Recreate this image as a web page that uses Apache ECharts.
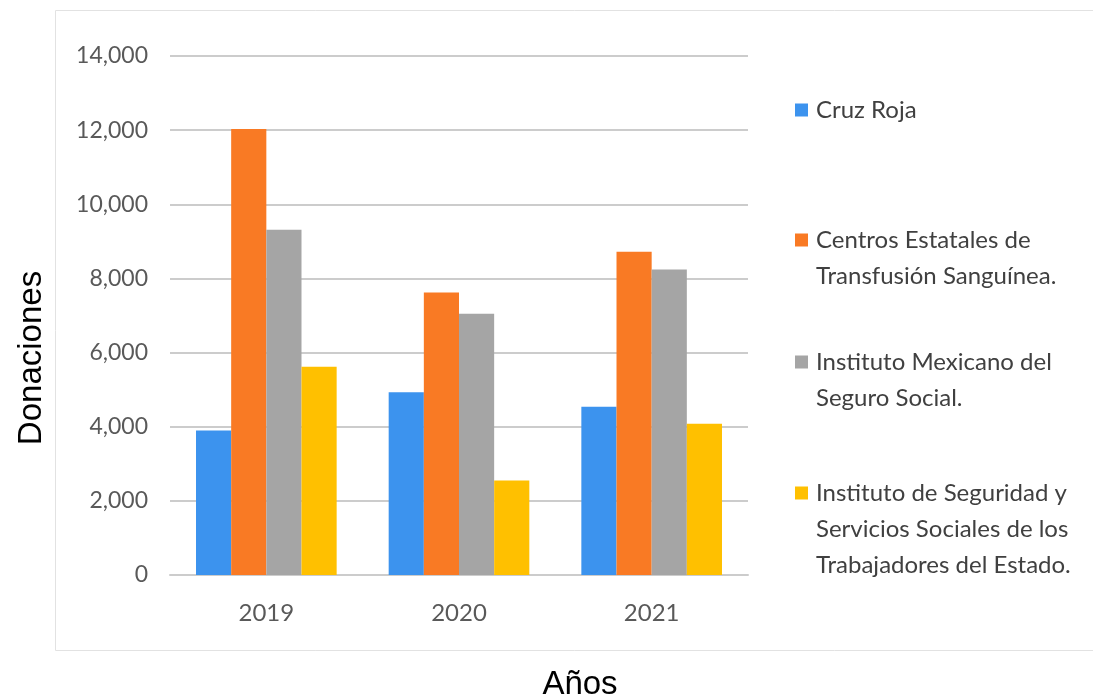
<!DOCTYPE html>
<html><head><meta charset="utf-8">
<script src="https://cdn.jsdelivr.net/npm/echarts@6/dist/echarts.min.js"></script>
<style>html,body{margin:0;padding:0;background:#fff;}#c{width:1093px;height:700px;}</style>
</head><body><div id="c"></div>
<script>
const years = ['2019', '2020', '2021'];
const seriesNames = [
  'Cruz Roja',
  'Centros Estatales de\nTransfusión Sanguínea.',
  'Instituto Mexicano del\nSeguro Social.',
  'Instituto de Seguridad y\nServicios Sociales de los\nTrabajadores del Estado.'
];
const cruzRoja = [3900, 4930, 4540];
const centrosEstatales = [12030, 7620, 8720];
const imss = [9310, 7050, 8240];
const issste = [5620, 2550, 4080];
const yTicks = [0, 2000, 4000, 6000, 8000, 10000, 12000, 14000];
const colors = ['#3C93EE', '#F97A24', '#A5A5A5', '#FFC000'];

const values = [cruzRoja, centrosEstatales, imss, issste];
const chart = echarts.init(document.getElementById('c'));

const legendCenters = [110, 240, 362, 493];
const lineH = 36;
const legends = seriesNames.map((name, i) => {
  const n = name.split('\n').length;
  const L = 2 * n - 1;
  return {
    data: [name],
    orient: 'vertical',
    left: 795,
    top: legendCenters[i] - L * lineH / 2,
    padding: 0,
    icon: 'rect',
    itemWidth: 13,
    itemHeight: 13,
    itemGap: 0,
    selectedMode: false,
    formatter: (nm) => '\n'.repeat(n - 1) + nm,
    textStyle: { fontFamily: 'Lato', fontSize: 24, color: '#404040', lineHeight: lineH, padding: [0, 0, 0, 3] }
  };
});

chart.setOption({
  animation: false,
  color: colors,
  graphic: [
    { type: 'polyline', shape: { points: [[1200, 10.5], [55.5, 10.5], [55.5, 650.5], [1200, 650.5]] }, style: { fill: 'none', stroke: '#e2e2e2', lineWidth: 1 }, z: -10 },
    { type: 'text', style: { text: 'Años', x: 580, y: 685, align: 'center', verticalAlign: 'middle', font: '33px "Liberation Sans", Arial', fill: '#000' } },
    { type: 'text', x: 32, y: 358, rotation: Math.PI / 2, style: { text: 'Donaciones', x: 0, y: 0, align: 'center', verticalAlign: 'middle', font: '33px "Liberation Sans", Arial', fill: '#000' } }
  ],
  legend: legends,
  grid: { left: 170, right: 345, top: 56, bottom: 125 },
  xAxis: {
    type: 'category',
    data: years,
    axisLine: { show: true, lineStyle: { color: '#cccccc', width: 2 } },
    axisTick: { show: false },
    axisLabel: { fontFamily: 'Lato', fontSize: 24, color: '#595959', margin: 26 }
  },
  yAxis: {
    type: 'value',
    min: 0, max: 14000, interval: 2000,
    axisLine: { show: false },
    axisTick: { show: false },
    splitLine: { lineStyle: { color: '#cccccc', width: 2 } },
    axisLabel: {
      fontFamily: 'Lato', fontSize: 23, color: '#595959', margin: 22,
      formatter: v => yTicks.includes(v) ? v.toLocaleString('en-US') : ''
    }
  },
  series: values.map((vals, i) => ({
    name: seriesNames[i],
    type: 'bar',
    data: vals,
    barGap: '0%',
    barCategoryGap: '27%'
  }))
});
</script></body></html>
